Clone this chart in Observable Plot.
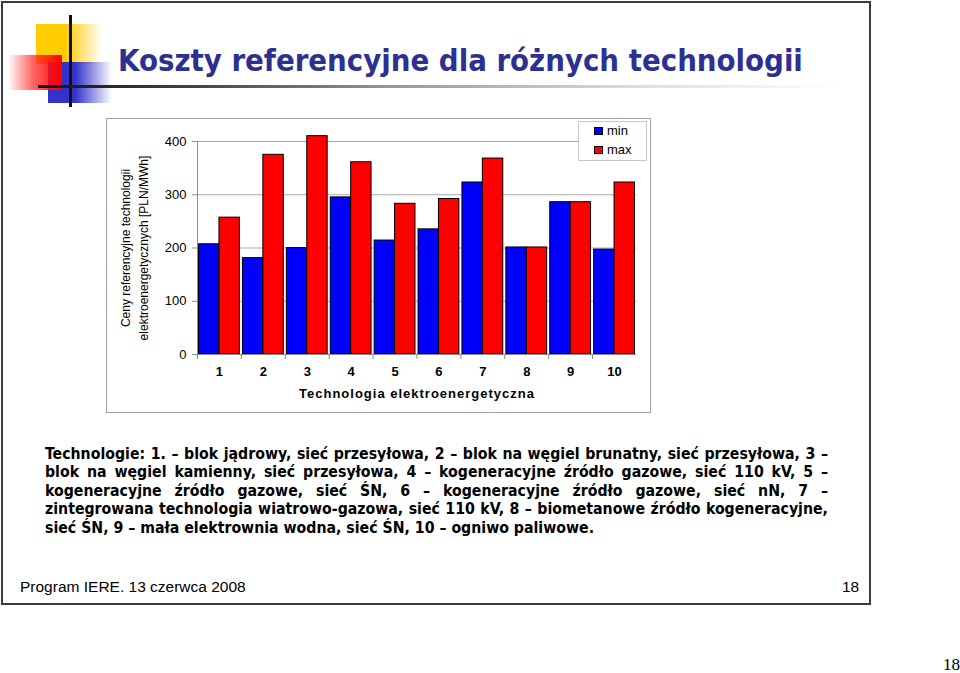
<!DOCTYPE html>
<html>
<head>
<meta charset="utf-8">
<script src="https://cdn.jsdelivr.net/npm/d3@7"></script>
<script src="https://cdn.jsdelivr.net/npm/@observablehq/plot@0.6"></script>
<style>
  html, body { margin: 0; padding: 0; background: #fff; }
  #page { position: relative; width: 960px; height: 673px; overflow: hidden; font-family: "Liberation Sans", Arial, sans-serif; }
  .abs { position: absolute; }
  #slide { left: 1px; top: 1px; width: 870px; height: 604px; box-sizing: border-box; border: 2px solid #3c3c3c; }
  #title { left: 118px; top: 45px; font-family: "DejaVu Sans Condensed", "DejaVu Sans", sans-serif; font-weight: bold; font-size: 31px; line-height: 1; color: #2d3091; white-space: nowrap; }
  #chartbox { left: 106px; top: 118px; width: 545px; height: 295px; box-sizing: border-box; border: 1px solid #a0a0a0; }
  #plot { left: 106px; top: 118px; }
  #legend { left: 578px; top: 121px; width: 69px; height: 40px; box-sizing: border-box; border: 1px solid #c8c8c8; background: #fff; font-size: 13px; }
  .lg { position: absolute; left: 15px; height: 16px; line-height: 16px; white-space: nowrap; }
  .sw { display: inline-block; width: 9px; height: 8px; border: 1px solid #000; box-sizing: border-box; margin-right: 4px; vertical-align: 0px; }
  #para { left: 45px; top: 445px; width: 783px; font-family: "DejaVu Sans Condensed", "DejaVu Sans", sans-serif; font-weight: bold; font-size: 15px; line-height: 18.4px; color: #000; }
  #para div { text-align: justify; text-align-last: justify; white-space: nowrap; }
  #para div.last { text-align-last: left; }
  #footer { left: 20px; top: 578px; font-size: 15.5px; white-space: nowrap; }
  #fnum { left: 842px; top: 578px; font-size: 15.5px; }
  #pnum { left: 943px; top: 655px; font-family: "Liberation Serif", "Times New Roman", serif; font-size: 17px; }
  svg [aria-label="x-axis label"] text, svg [aria-label="x-axis label"] { letter-spacing: 1px; }
</style>
</head>
<body>
<div id="page">
  <div class="abs" style="left:36px;top:24px;width:66px;height:40px;background:linear-gradient(to right,#ffcc00 0%,#ffcc00 45%,rgba(255,204,0,0) 100%);"></div>
  <div class="abs" style="left:48px;top:62px;width:64px;height:41px;background:linear-gradient(to right,#3333cc 0%,#3333cc 42%,rgba(51,51,204,0) 100%);"></div>
  <div class="abs" style="left:8px;top:55px;width:54px;height:35px;background:linear-gradient(to right,rgba(255,0,0,0) 0%,rgba(255,40,40,0.7) 45%,#ff0000 100%);"></div>
  <div class="abs" style="left:69px;top:15px;width:3px;height:92px;background:#111;"></div>
  <div class="abs" style="left:38px;top:85px;width:800px;height:3px;background:linear-gradient(to right,#111 0%,#444 20%,#999 45%,#ddd 75%,rgba(255,255,255,0) 100%);"></div>
  <div id="slide" class="abs"></div>
  <div id="title" class="abs"></div>
  <div id="chartbox" class="abs"></div>
  <div id="plot" class="abs"></div>
  <div id="legend" class="abs"></div>
  <div id="para" class="abs"></div>
  <div id="footer" class="abs"></div>
  <div id="fnum" class="abs"></div>
  <div id="pnum" class="abs"></div>
</div>
<script>
// ---- data ----
const titleText = "Koszty referencyjne dla różnych technologii";
const technologies = ["1", "2", "3", "4", "5", "6", "7", "8", "9", "10"];
const minValues = [207, 181, 200, 295, 214, 235, 323, 201, 286, 197];
const maxValues = [257, 375, 410, 361, 283, 292, 368, 201, 286, 323];
const seriesNames = ["min", "max"];
const seriesColors = ["#0000ff", "#ff0000"];
const yTicks = [0, 100, 200, 300, 400];
const yLabel = "Ceny referencyjne technologii\nelektroenergetycznych [PLN/MWh]";
const xLabel = "Technologia elektroenergetyczna";
const paragraphLines = [
  "Technologie: 1. – blok jądrowy, sieć przesyłowa, 2 – blok na węgiel brunatny, sieć przesyłowa, 3 –",
  "blok na węgiel kamienny, sieć przesyłowa, 4 – kogeneracyjne źródło gazowe, sieć 110 kV, 5 –",
  "kogeneracyjne źródło gazowe, sieć ŚN, 6 – kogeneracyjne źródło gazowe, sieć nN, 7 –",
  "zintegrowana technologia wiatrowo-gazowa, sieć 110 kV, 8 – biometanowe źródło kogeneracyjne,",
  "sieć ŚN, 9 – mała elektrownia wodna, sieć ŚN, 10 – ogniwo paliwowe."
];
const footerText = "Program IERE. 13 czerwca 2008";
const slideNumber = "18";

// ---- texts ----
const titleEl = document.getElementById("title");
titleEl.textContent = titleText;
{
  const w = titleEl.getBoundingClientRect().width;
  titleEl.style.fontSize = (31 * 685 / w) + "px";
}
document.getElementById("footer").textContent = footerText;
document.getElementById("fnum").textContent = slideNumber;
document.getElementById("pnum").textContent = slideNumber;
const para = document.getElementById("para");
paragraphLines.forEach((t, i) => {
  const d = document.createElement("div");
  d.textContent = t;
  if (i === paragraphLines.length - 1) d.className = "last";
  para.appendChild(d);
});
{
  const probe = document.createElement("span");
  probe.style.whiteSpace = "nowrap";
  para.appendChild(probe);
  let maxW = 0;
  paragraphLines.slice(0, 4).forEach(t => { probe.textContent = t; maxW = Math.max(maxW, probe.getBoundingClientRect().width); });
  para.removeChild(probe);
  para.style.fontSize = (15 * 778 / maxW) + "px";
}

// ---- legend ----
const legend = document.getElementById("legend");
seriesNames.forEach((s, i) => {
  const row = document.createElement("div");
  row.className = "lg";
  row.style.top = (i === 0 ? 1 : 20) + "px";
  const sw = document.createElement("span");
  sw.className = "sw";
  sw.style.background = seriesColors[i];
  row.appendChild(sw);
  row.appendChild(document.createTextNode(s));
  legend.appendChild(row);
});

// ---- chart ----
const rows = technologies.map((t, i) => ({tech: t, min: minValues[i], max: maxValues[i]}));
const W = 545, H = 295, mL = 91, mR = 15, mT = 23, mB = 59;
const padIn = 0.07, padOut = 0.035;
const step = (W - mL - mR) / (technologies.length - padIn + 2 * padOut);
const half = step * (1 - padIn) / 2;

const chart = Plot.plot({
  width: W, height: H,
  marginLeft: mL, marginRight: mR, marginTop: mT, marginBottom: mB,
  style: {fontFamily: "'Liberation Sans', Arial, sans-serif", fontSize: "13px", background: "transparent", overflow: "visible"},
  x: {type: "band", domain: technologies, paddingInner: padIn, paddingOuter: padOut, round: false},
  y: {domain: [0, 400]},
  marks: [
    Plot.gridY(yTicks, {stroke: "#a8a8a8", strokeOpacity: 1}),
    Plot.barY(rows, {x: "tech", y: "min", fill: seriesColors[0], stroke: "#000", strokeWidth: 1, insetRight: half}),
    Plot.barY(rows, {x: "tech", y: "max", fill: seriesColors[1], stroke: "#000", strokeWidth: 1, insetLeft: half}),
    Plot.ruleY([0], {stroke: "#8c8c8c"}),
    Plot.frame({anchor: "left", stroke: "#8c8c8c"}),
    Plot.axisY({ticks: yTicks, tickSize: 5, tickPadding: 6, stroke: "#8c8c8c", fill: "#000",
      label: yLabel, labelAnchor: "center", labelOffset: 76, labelArrow: "none"}),
    Plot.axisX({tickSize: 5, tickFormat: () => "", dx: -step / 2, stroke: "#8c8c8c", label: null}),
    Plot.axisX({tickSize: 0, tickPadding: 12, fontWeight: "bold", fill: "#000",
      label: xLabel, labelAnchor: "center", labelOffset: 43, labelArrow: "none"})
  ]
});
{
  const g = chart.querySelector('[aria-label="y-axis label"]');
  if (g) {
    g.setAttribute("font-size", "12px");
    g.style.fontSize = "12px";
    g.querySelectorAll("tspan").forEach((ts, i) => { if (i > 0) ts.setAttribute("dy", "1.5em"); });
  }
}
document.getElementById("plot").appendChild(chart);
</script>
</body>
</html>
